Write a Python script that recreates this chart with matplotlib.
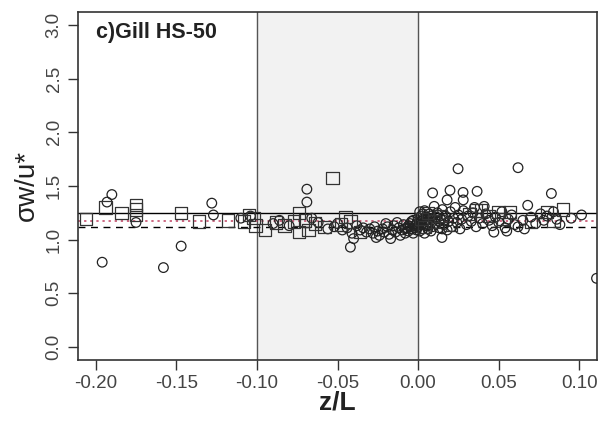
import matplotlib
matplotlib.use("Agg")
import matplotlib.pyplot as plt

plt.rcParams['font.family'] = ['Liberation Sans', 'DejaVu Sans']

# circles (x = z/L, y = sigma_w/u*)
circ_x = [-0.196, -0.190, -0.193, -0.175, -0.158, -0.147, -0.128, -0.127, -0.110, -0.104,
          -0.069, -0.069, -0.040, -0.042, -0.090, -0.086, -0.080, -0.066, -0.062, -0.056,
          -0.052, -0.050, -0.047, -0.044, -0.041, -0.038, -0.036, -0.034, -0.032, -0.030,
          -0.028, -0.027, -0.025, -0.024, -0.022, -0.021, -0.019, -0.018, -0.016, -0.015,
          -0.014, -0.012, -0.011, -0.010, -0.009, -0.008, -0.007, -0.006, -0.005, -0.004,
          -0.003, -0.002, -0.001, -0.013, -0.020, -0.026, -0.017, -0.003,
          -0.006, -0.004, -0.002, -0.001, -0.008, -0.005,
          0.0248, 0.062, 0.009, 0.0198, 0.0279, 0.0366, 0.0827, 0.068, 0.018, 0.028,
          0.0148, 0.1107, 0.1014, 0.078, 0.062,
          0.001, 0.002, 0.003, 0.004, 0.005, 0.006, 0.007, 0.008, 0.009, 0.010,
          0.011, 0.012, 0.013, 0.014, 0.015, 0.016, 0.017, 0.018, 0.019, 0.020,
          0.021, 0.022, 0.023, 0.024, 0.025, 0.026, 0.027, 0.028, 0.030, 0.031,
          0.033, 0.034, 0.036, 0.038, 0.040, 0.042, 0.044, 0.046, 0.048, 0.050,
          0.052, 0.054, 0.056, 0.058, 0.060, 0.065, 0.070, 0.073, 0.076, 0.080,
          0.084, 0.086, 0.095, 0.088, 0.066, 0.055, 0.047, 0.035, 0.041,
          0.000, 0.001, 0.002, 0.003, 0.004, 0.005, 0.006, 0.007, 0.001, 0.003,
          0.005, 0.008, 0.000, 0.002, 0.004, 0.006, 0.009, 0.011, 0.013, 0.015,
          0.012, 0.016]
circ_y = [0.79, 1.42, 1.35, 1.16, 0.74, 0.94, 1.34, 1.23, 1.20, 1.22,
          1.47, 1.35, 1.01, 0.93, 1.15, 1.18, 1.13, 1.20, 1.16, 1.10,
          1.12, 1.15, 1.09, 1.11, 1.06, 1.13, 1.09, 1.11, 1.07, 1.10,
          1.06, 1.12, 1.08, 1.04, 1.10, 1.07, 1.12, 1.05, 1.09, 1.13,
          1.07, 1.11, 1.04, 1.09, 1.14, 1.06, 1.11, 1.08, 1.15, 1.10,
          1.06, 1.13, 1.09, 1.16, 1.15, 1.02, 1.01, 1.18,
          1.13, 1.17, 1.11, 1.15, 1.10, 1.12,
          1.66, 1.67, 1.435, 1.46, 1.44, 1.45, 1.43, 1.32, 1.37, 1.37,
          1.02, 0.64, 1.23, 1.18, 1.12,
          1.15, 1.22, 1.10, 1.27, 1.18, 1.13, 1.24, 1.08, 1.20, 1.31,
          1.15, 1.25, 1.11, 1.19, 1.28, 1.14, 1.22, 1.09, 1.17, 1.26,
          1.12, 1.20, 1.30, 1.16, 1.23, 1.10, 1.19, 1.27, 1.14, 1.22,
          1.17, 1.25, 1.12, 1.20, 1.15, 1.24, 1.18, 1.13, 1.21, 1.16,
          1.26, 1.11, 1.19, 1.23, 1.14, 1.18, 1.21, 1.15, 1.24, 1.22,
          1.26, 1.19, 1.20, 1.14, 1.10, 1.08, 1.07, 1.30, 1.31,
          1.12, 1.08, 1.17, 1.24, 1.06, 1.21, 1.10, 1.16, 1.26, 1.19,
          1.13, 1.22, 1.20, 1.14, 1.16, 1.19, 1.12, 1.21, 1.17, 1.10,
          1.23, 1.18]

# squares
sq_x = [-0.206, -0.194, -0.184, -0.175, -0.175, -0.175, -0.147, -0.136, -0.118, -0.108,
        -0.105, -0.102, -0.101, -0.095,
        -0.053, -0.074, -0.068, -0.077, -0.074, -0.070, -0.064, -0.045, -0.042, -0.036,
        -0.083, -0.088, -0.058, -0.048,
        0.002, 0.004, 0.006, 0.010, 0.014, 0.020, 0.032, 0.036, 0.039, 0.044,
        0.050, 0.053, 0.057, 0.070, 0.080, 0.090, 0.084]
sq_y = [1.19, 1.30, 1.25, 1.32, 1.28, 1.23, 1.25, 1.17, 1.18, 1.17,
        1.23, 1.20, 1.13, 1.09,
        1.575, 1.07, 1.09, 1.17, 1.25, 1.18, 1.15, 1.21, 1.17, 1.07,
        1.13, 1.16, 1.12, 1.14,
        1.19, 1.12, 1.25, 1.17, 1.22, 1.14, 1.24, 1.27, 1.27, 1.22,
        1.26, 1.19, 1.26, 1.17, 1.26, 1.28, 1.18]

# reference lines
solid_ref = 1.25
dotted_ref = 1.17
dashed_ref = 1.12

fig = plt.figure(figsize=(6.0, 4.26), dpi=100)
ax = fig.add_axes([0.13, 0.155, 0.865, 0.817])

ax.axvspan(-0.1, 0.0, color='#f2f2f2', zorder=0)
ax.axvline(-0.1, color='#555555', lw=1.0, zorder=1)
ax.axvline(0.0, color='#555555', lw=1.0, zorder=1)

ax.axhline(solid_ref, color='black', lw=1.0, zorder=2)
ax.axhline(dotted_ref, color='#c04060', lw=1.1, ls=(0, (1.5, 2.5)), zorder=2)
ax.axhline(dashed_ref, color='black', lw=1.0, ls=(0, (5, 4)), zorder=2)

ax.scatter(circ_x, circ_y, s=48, marker='o', facecolors='none',
           edgecolors='#222222', linewidths=0.9, zorder=3)
ax.scatter(sq_x, sq_y, s=80, marker='s', facecolors='none',
           edgecolors='#333333', linewidths=0.9, zorder=3)

ax.set_xlim(-0.211, 0.111)
ax.set_ylim(-0.12, 3.12)
ax.set_xticks([-0.20, -0.15, -0.10, -0.05, 0.00, 0.05, 0.10])
ax.set_xticklabels(['-0.20', '-0.15', '-0.10', '-0.05', '0.00', '0.05', '0.10'])
ax.set_yticks([0.0, 0.5, 1.0, 1.5, 2.0, 2.5, 3.0])
ax.set_yticklabels(['0.0', '0.5', '1.0', '1.5', '2.0', '2.5', '3.0'],
                   rotation=90, va='center')
ax.tick_params(direction='out', length=7, width=1, labelsize=13.5, colors='#333333',
               labelcolor='#444444')
ax.tick_params(axis='x', pad=4)
ax.tick_params(axis='y', pad=4)
for sp in ax.spines.values():
    sp.set_linewidth(1.2)
    sp.set_color('#333333')

ax.set_xlabel('z/L', fontsize=19, fontweight='bold', labelpad=-1, color='#222222')
ax.set_ylabel('σw/u*', fontsize=20, labelpad=4, color='#222222')
ax.text(0.035, 0.94, 'c)Gill HS-50', transform=ax.transAxes, fontsize=15.5,
        fontweight='bold', va='center', ha='left', color='#222222')

fig.savefig('out.png', dpi=100)
